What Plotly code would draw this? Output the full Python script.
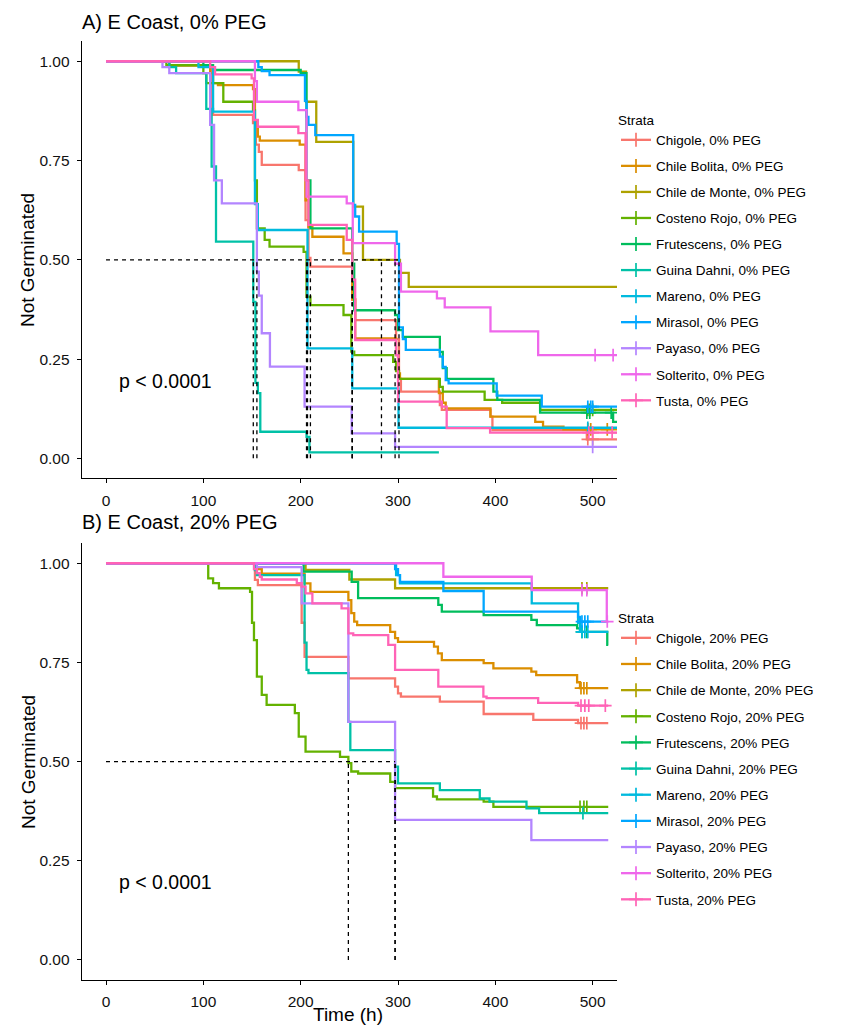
import plotly.graph_objects as go

# ---------------- data ----------------
STRATA = ["Chigole", "Chile Bolita", "Chile de Monte", "Costeno Rojo", "Frutescens",
          "Guina Dahni", "Mareno", "Mirasol", "Payaso", "Solterito", "Tusta"]
COLORS = ["#F8766D", "#DB8E00", "#AEA200", "#64B200", "#00BD5C", "#00C1A7",
          "#00BADE", "#00A6FF", "#B385FF", "#EF67EB", "#FF63B6"]
X_TICKS = [0, 100, 200, 300, 400, 500]
Y_TICKS = [0.00, 0.25, 0.50, 0.75, 1.00]

# Panel A: E Coast, 0% PEG  (times in h, survival = fraction not germinated)
A_CHIGOLE_T = [0, 65, 108, 110, 151, 154, 157, 160, 198, 205, 208, 210, 253, 256, 298, 301, 303, 343, 345, 395, 397, 494]
A_CHIGOLE_S = [1, 0.99, 0.88, 0.865, 0.844, 0.79, 0.772, 0.739, 0.726, 0.60, 0.505, 0.483, 0.40, 0.348, 0.30, 0.20, 0.168, 0.134, 0.122, 0.105, 0.071, 0.048]
A_CHIGOLE_C = [495, 500]
A_BOLITA_T = [0, 65, 107, 110, 115, 151, 153, 156, 158, 199, 205, 208, 212, 244, 253, 256, 298, 300, 302, 342, 346, 349, 395, 441, 449, 470]
A_BOLITA_S = [1, 0.99, 0.97, 0.945, 0.94, 0.93, 0.85, 0.81, 0.80, 0.79, 0.65, 0.583, 0.558, 0.516, 0.40, 0.302, 0.26, 0.214, 0.20, 0.164, 0.14, 0.126, 0.105, 0.092, 0.08, 0.073]
A_BOLITA_C = [495, 498, 515]
A_MONTE_T = [0, 198, 205.5, 216, 254, 264, 302, 311]
A_MONTE_S = [1, 0.974, 0.898, 0.797, 0.634, 0.5, 0.467, 0.432]
A_MONTE_C = []
A_COSTENO_T = [0, 62, 100, 103, 120.5, 151, 153, 155, 163, 168, 203, 206, 210, 244, 252, 255, 295, 298, 301, 343, 346, 389, 407, 446]
A_COSTENO_S = [1, 0.99, 0.97, 0.945, 0.898, 0.877, 0.70, 0.579, 0.55, 0.533, 0.52, 0.407, 0.386, 0.361, 0.269, 0.26, 0.243, 0.22, 0.20, 0.18, 0.168, 0.147, 0.14, 0.122]
A_COSTENO_C = [495, 497, 500]
A_FRUT_T = [0, 100, 110, 200, 206, 210, 253, 255, 297, 300, 305, 343, 346, 350, 398, 402, 446, 521]
A_FRUT_S = [1, 0.99, 0.978, 0.97, 0.70, 0.579, 0.49, 0.373, 0.361, 0.323, 0.306, 0.268, 0.227, 0.20, 0.168, 0.147, 0.115, 0.092]
A_FRUT_C = [494, 497, 519]
A_GUINA_T = [0, 65, 72, 103, 108.5, 113, 151.3, 153.5, 156, 158.5, 206, 209]
A_GUINA_S = [1, 0.985, 0.97, 0.88, 0.735, 0.546, 0.394, 0.19, 0.164, 0.067, 0.054, 0.015]
A_GUINA_C = []
A_MARENO_T = [0, 95, 110, 153, 156, 207, 253, 300.5]
A_MARENO_S = [1, 0.985, 0.873, 0.64, 0.575, 0.277, 0.176, 0.077]
A_MARENO_C = [495]
A_MIRASOL_T = [0, 156.5, 160, 168, 204.4, 206, 208, 215, 254, 256, 260, 298.6, 301, 305, 308, 343, 346, 349, 352, 401.4, 447.7]
A_MIRASOL_S = [1, 0.985, 0.975, 0.965, 0.90, 0.86, 0.84, 0.814, 0.638, 0.609, 0.571, 0.54, 0.33, 0.30, 0.273, 0.256, 0.23, 0.197, 0.189, 0.158, 0.13]
A_MIRASOL_C = [495, 498, 500]
A_PAYASO_T = [0, 58, 65, 107, 111, 119, 155, 157, 160, 168.4, 204, 252.4, 297]
A_PAYASO_S = [1, 0.985, 0.97, 0.84, 0.70, 0.642, 0.47, 0.41, 0.315, 0.231, 0.13, 0.063, 0.029]
A_PAYASO_C = [500]
A_SOLT_T = [0, 153, 155, 197.6, 206, 247.3, 253.5, 297, 303, 340, 348, 395, 444]
A_SOLT_S = [1, 0.95, 0.898, 0.877, 0.659, 0.642, 0.542, 0.49, 0.42, 0.403, 0.38, 0.32, 0.26]
A_SOLT_C = [502.5, 521]
A_TUSTA_T = [0, 107, 112, 149.6, 152, 156, 197.6, 205, 208, 247.3, 253, 256, 298, 300, 345, 350, 394.6]
A_TUSTA_S = [1, 0.985, 0.967, 0.957, 0.852, 0.835, 0.819, 0.70, 0.588, 0.55, 0.45, 0.298, 0.26, 0.143, 0.13, 0.076, 0.065]
A_TUSTA_C = [496, 500, 520]
A_END = [530, 530, 530, 530, 530, 342, 530, 530, 530, 530, 530]

# Panel B: E Coast, 20% PEG
B_CHIGOLE_T = [0, 153, 156, 201, 204, 249, 297, 300, 303, 343, 388, 439, 485]
B_CHIGOLE_S = [1, 0.958, 0.945, 0.85, 0.764, 0.71, 0.689, 0.672, 0.664, 0.651, 0.62, 0.605, 0.597]
B_CHIGOLE_C = [488, 491, 494]
B_BOLITA_T = [0, 155, 160, 204, 210, 249, 252, 255, 258, 292, 297, 300, 337, 341, 345, 388, 398, 437, 442, 484, 487]
B_BOLITA_S = [1, 0.985, 0.974, 0.949, 0.928, 0.907, 0.874, 0.853, 0.844, 0.827, 0.811, 0.802, 0.79, 0.773, 0.756, 0.748, 0.735, 0.727, 0.718, 0.70, 0.685]
B_BOLITA_C = [488, 491, 494]
B_MONTE_T = [0, 205, 250, 297]
B_MONTE_S = [1, 0.983, 0.959, 0.937]
B_MONTE_C = [489, 494]
B_COSTENO_T = [0, 105, 110, 116, 148, 150, 152, 155, 160, 165, 194, 198, 205, 240.4, 249, 252, 259, 292, 297, 336, 340, 388, 398]
B_COSTENO_S = [1, 0.962, 0.95, 0.937, 0.928, 0.85, 0.806, 0.714, 0.668, 0.643, 0.622, 0.563, 0.525, 0.512, 0.496, 0.475, 0.47, 0.449, 0.433, 0.412, 0.405, 0.399, 0.386]
B_COSTENO_C = [487, 491, 494]
B_FRUT_T = [0, 203, 252.4, 259, 341.4, 345, 388, 437, 442.6, 484, 487, 515]
B_FRUT_S = [1, 0.979, 0.953, 0.912, 0.895, 0.878, 0.869, 0.857, 0.844, 0.836, 0.827, 0.794]
B_FRUT_C = [489, 494]
B_GUINA_T = [0, 153, 155, 204, 206, 208, 249, 251, 297, 300, 343, 384, 394, 432, 445]
B_GUINA_S = [1, 0.983, 0.970, 0.80, 0.731, 0.723, 0.60, 0.529, 0.487, 0.445, 0.428, 0.407, 0.399, 0.382, 0.37]
B_GUINA_C = [490]
B_MARENO_T = [0, 298, 302, 437.4, 485, 487]
B_MARENO_S = [1, 0.97, 0.949, 0.899, 0.85, 0.827]
B_MARENO_C = [489, 492, 495]
B_MIRASOL_T = [0, 297, 300, 302, 346.6, 388, 485, 487]
B_MIRASOL_S = [1, 0.985, 0.97, 0.953, 0.93, 0.878, 0.865, 0.853]
B_MIRASOL_C = [489, 492, 495]
B_PAYASO_T = [0, 155, 201, 249, 297, 437]
B_PAYASO_S = [1, 0.99, 0.899, 0.60, 0.353, 0.302]
B_PAYASO_C = []
B_SOLT_T = [0, 346.6, 437.4, 514.5]
B_SOLT_S = [1, 0.966, 0.932, 0.853]
B_SOLT_C = [489, 494, 515]
B_TUSTA_T = [0, 152, 155, 158, 160, 196, 201, 205, 212, 242, 249, 254, 290, 297, 341.4, 387.7, 391, 444, 485]
B_TUSTA_S = [1, 0.985, 0.975, 0.966, 0.959, 0.95, 0.941, 0.924, 0.899, 0.886, 0.823, 0.819, 0.794, 0.731, 0.689, 0.664, 0.66, 0.648, 0.641]
B_TUSTA_C = [488, 492, 496, 513]
B_END = [516, 516, 516, 516, 516, 516, 516, 516, 516, 515, 516]

PANEL_A = [(A_CHIGOLE_T, A_CHIGOLE_S, A_CHIGOLE_C), (A_BOLITA_T, A_BOLITA_S, A_BOLITA_C),
           (A_MONTE_T, A_MONTE_S, A_MONTE_C), (A_COSTENO_T, A_COSTENO_S, A_COSTENO_C),
           (A_FRUT_T, A_FRUT_S, A_FRUT_C), (A_GUINA_T, A_GUINA_S, A_GUINA_C),
           (A_MARENO_T, A_MARENO_S, A_MARENO_C), (A_MIRASOL_T, A_MIRASOL_S, A_MIRASOL_C),
           (A_PAYASO_T, A_PAYASO_S, A_PAYASO_C), (A_SOLT_T, A_SOLT_S, A_SOLT_C),
           (A_TUSTA_T, A_TUSTA_S, A_TUSTA_C)]
PANEL_B = [(B_CHIGOLE_T, B_CHIGOLE_S, B_CHIGOLE_C), (B_BOLITA_T, B_BOLITA_S, B_BOLITA_C),
           (B_MONTE_T, B_MONTE_S, B_MONTE_C), (B_COSTENO_T, B_COSTENO_S, B_COSTENO_C),
           (B_FRUT_T, B_FRUT_S, B_FRUT_C), (B_GUINA_T, B_GUINA_S, B_GUINA_C),
           (B_MARENO_T, B_MARENO_S, B_MARENO_C), (B_MIRASOL_T, B_MIRASOL_S, B_MIRASOL_C),
           (B_PAYASO_T, B_PAYASO_S, B_PAYASO_C), (B_SOLT_T, B_SOLT_S, B_SOLT_C),
           (B_TUSTA_T, B_TUSTA_S, B_TUSTA_C)]

# ---------------- helpers ----------------
OFF = 8                      # the page body adds an 8 px margin around the figure
W, H = 845 - OFF, 1027 - OFF
FONT = "Liberation Sans, Arial, sans-serif"


def px_x(p):
    return (p - OFF) / W


def px_y(p):
    return 1 - (p - OFF) / H


def surv_at(t, ts, ss):
    v = ss[0]
    for ti, si in zip(ts, ss):
        if ti <= t:
            v = si
    return v


def median_time(ts, ss):
    for i, (ti, si) in enumerate(zip(ts, ss)):
        if si <= 0.5:
            if abs(si - 0.5) < 1e-9 and i + 1 < len(ts):
                return (ti + ts[i + 1]) / 2
            return ti
    return None


LW = 2.3
fig = go.Figure()

panels = [("A", PANEL_A, A_END, "x", "y", "legend", "0% PEG"),
          ("B", PANEL_B, B_END, "x2", "y2", "legend2", "20% PEG")]

for tag, data, ends, xa, ya, leg, peg in panels:
    medians = []
    for i, (ts, ss, cs) in enumerate(data):
        col = COLORS[i]
        xs = list(ts) + [ends[i]]
        ys = list(ss) + [ss[-1]]
        fig.add_trace(go.Scatter(x=xs, y=ys, mode="lines", line=dict(color=col, width=LW, shape="hv"),
                                 xaxis=xa, yaxis=ya, showlegend=False, hoverinfo="skip"))
        if cs:
            fig.add_trace(go.Scatter(x=cs, y=[surv_at(c, ts, ss) for c in cs], mode="markers",
                                     marker=dict(symbol="cross-thin-open", size=9, color=col,
                                                 line=dict(color=col, width=1.7)),
                                     xaxis=xa, yaxis=ya, showlegend=False, hoverinfo="skip"))
        m = median_time(ts, ss)
        if m is not None:
            medians.append(m)
        # legend-only entry
        fig.add_trace(go.Scatter(x=[None], y=[None], mode="lines+markers",
                                 name=f"{STRATA[i]}, {peg}", legend=leg, legendgroup=f"{tag}{i}",
                                 line=dict(color=col, width=LW),
                                 marker=dict(symbol="cross-thin-open", size=10, color=col,
                                             line=dict(color=col, width=1.7)),
                                 xaxis=xa, yaxis=ya))
    # median lines
    if medians:
        fig.add_trace(go.Scatter(x=[0, max(medians)], y=[0.5, 0.5], mode="lines",
                                 line=dict(color="black", width=1.3, dash="4px,4px"),
                                 xaxis=xa, yaxis=ya, showlegend=False, hoverinfo="skip"))
        for m in medians:
            fig.add_trace(go.Scatter(x=[m, m], y=[0, 0.5], mode="lines",
                                     line=dict(color="black", width=1.3, dash="4px,4px"),
                                     xaxis=xa, yaxis=ya, showlegend=False, hoverinfo="skip"))

axis_common = dict(showline=True, linecolor="black", linewidth=1.1, ticks="outside", ticklen=4,
                   tickcolor="black", tickwidth=1.1, showgrid=False, zeroline=False,
                   ticklabelstandoff=4,
                   tickfont=dict(family=FONT, size=15.5, color="#111111"), automargin=False)

XDOM = [px_x(81.7), px_x(617)]
LEG_FONT = dict(family=FONT, size=13.5, color="black")
fig.update_layout(
    width=W, height=H, margin=dict(l=0, r=0, t=0, b=0),
    paper_bgcolor="white", plot_bgcolor="white",
    font=dict(family=FONT, color="black"),
    xaxis=dict(domain=XDOM, range=[-25, 525], tickvals=X_TICKS, anchor="y", **axis_common),
    yaxis=dict(domain=[px_y(478.2), px_y(41.4)], range=[-0.05, 1.05], tickvals=Y_TICKS,
               tickformat=".2f", anchor="x", **axis_common),
    xaxis2=dict(domain=XDOM, range=[-25, 525], tickvals=X_TICKS, anchor="y2", **axis_common),
    yaxis2=dict(domain=[px_y(979.8), px_y(543.4)], range=[-0.05, 1.05], tickvals=Y_TICKS,
                tickformat=".2f", anchor="x2", **axis_common),
    legend=dict(x=px_x(616), y=px_y(107), xanchor="left", yanchor="top",
                title=dict(text="Strata", font=LEG_FONT),
                font=LEG_FONT, tracegroupgap=5.5, bgcolor="rgba(0,0,0,0)"),
    legend2=dict(x=px_x(616), y=px_y(605), xanchor="left", yanchor="top",
                 title=dict(text="Strata", font=LEG_FONT),
                 font=LEG_FONT, tracegroupgap=5.6, bgcolor="rgba(0,0,0,0)"),
)

ann = [
    dict(text="A) E Coast, 0% PEG", x=px_x(80), y=px_y(22), xref="paper", yref="paper",
         xanchor="left", yanchor="middle", showarrow=False, font=dict(family=FONT, size=20)),
    dict(text="B) E Coast, 20% PEG", x=px_x(80), y=px_y(522), xref="paper", yref="paper",
         xanchor="left", yanchor="middle", showarrow=False, font=dict(family=FONT, size=20)),
    dict(text="Not Germinated", x=px_x(28), y=px_y(260), xref="paper", yref="paper", textangle=-90,
         xanchor="center", yanchor="middle", showarrow=False, font=dict(family=FONT, size=19)),
    dict(text="Not Germinated", x=px_x(28), y=px_y(762), xref="paper", yref="paper", textangle=-90,
         xanchor="center", yanchor="middle", showarrow=False, font=dict(family=FONT, size=19)),
    dict(text="Time (h)", x=px_x(348), y=px_y(1014), xref="paper", yref="paper",
         xanchor="center", yanchor="middle", showarrow=False, font=dict(family=FONT, size=19)),
    dict(text="p < 0.0001", x=11, y=0.195, xref="x", yref="y", xanchor="left", yanchor="middle",
         showarrow=False, font=dict(family=FONT, size=19.5)),
    dict(text="p < 0.0001", x=11, y=0.197, xref="x2", yref="y2", xanchor="left", yanchor="middle",
         showarrow=False, font=dict(family=FONT, size=19.5)),
]
fig.update_layout(annotations=ann)

fig.write_html("out.html")
